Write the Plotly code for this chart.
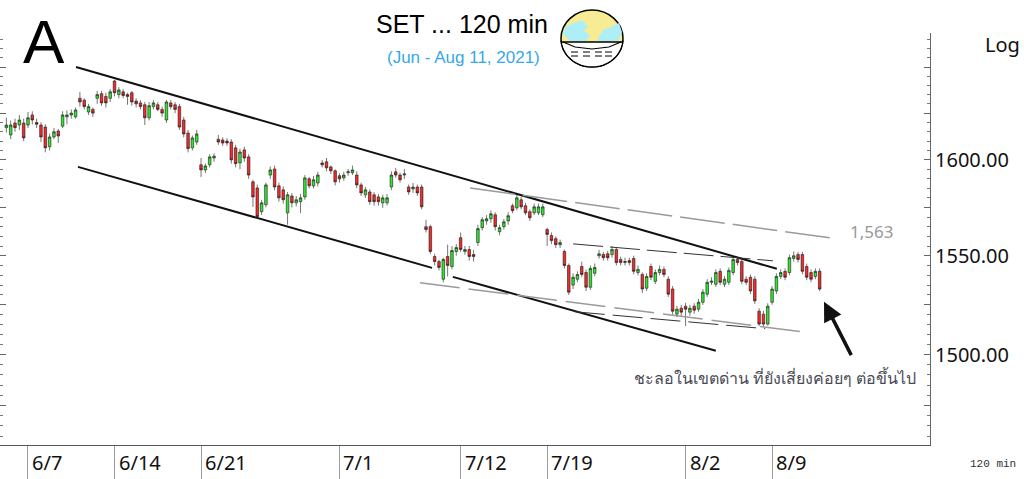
import math
import numpy as np
import plotly.graph_objects as go

# 120-min bars, index 0 = first bar of 6/7 (4 bars per trading day)
bar_index = list(range(-5, 184))

open_ = [1617.2, 1613.3, 1619.7, 1618.6, 1619.7,
         1618.6, 1624, 1620, 1618.6, 1617.5, 1607, 1612.2, 1615.4, 1618, 1623,
         1624, 1623, 1633, 1632, 1625.6, 1627, 1633, 1635.5, 1634, 1633,
         1642.4, 1635, 1636.5, 1635, 1636, 1631.5, 1630.5, 1629.5, 1622.5, 1628.5,
         1629.5, 1627, 1621.3, 1630.5, 1629.5, 1628.5, 1621.3, 1614.3, 1606.4, 1609.5,
         1597.4, 1594.7, 1597.4, 1601, 1611, 1610.6, 1610, 1609.5, 1606.4, 1598.4,
         1605.3, 1601.6, 1588.4, 1585.2, 1572.8, 1576.4, 1592, 1595.2, 1586.3, 1584.2,
         1572.2, 1581, 1577.4, 1578, 1580.5, 1590, 1586.3, 1587.8, 1598.4, 1599,
         1596.3, 1594.2, 1591.6, 1590.5, 1593.2, 1593.2, 1592, 1586.8, 1581.6, 1583.1,
         1581.6, 1580.5, 1577.4, 1577.4, 1585.7, 1593.7, 1592, 1592, 1585.7, 1584.7,
         1585.7, 1585.7, 1565, 1565, 1549.6, 1547, 1538, 1549.6, 1544.5, 1552.2,
         1559.3, 1552.2, 1553.2, 1550.6, 1556.8, 1564.5, 1568, 1569.1, 1571.2, 1562.4,
         1565, 1568, 1575.9, 1574.8, 1579, 1575.9, 1572.8, 1572.2, 1572.2, 1571.2,
         1563.5, 1560.4, 1558.8, 1555.7, 1552.2, 1545, 1535, 1538, 1544.5, 1541.4,
         1533.9, 1541, 1550, 1550.6, 1551, 1550.6, 1553.2, 1548.1, 1546.5, 1547.5,
         1548.6, 1541.4, 1540.4, 1533.4, 1544.5, 1536.9, 1541.4, 1543, 1538, 1533,
         1520.3, 1523.3, 1524.3, 1521.3, 1524.3, 1522.8, 1526.3, 1530.4, 1536.4, 1535.4,
         1542, 1535.4, 1536.4, 1541.4, 1548.1, 1547, 1538, 1539, 1538, 1521.8,
         1520.3, 1515.3, 1526.3, 1532, 1539.4, 1542, 1541.4, 1548.6, 1550.6, 1550.6,
         1544.5, 1541.4, 1539.4, 1542]

high = [1622.5, 1621, 1622, 1624, 1622,
        1625.6, 1626, 1622, 1620, 1619, 1614, 1617, 1616.5, 1626, 1626.5,
        1627, 1628, 1636.5, 1633, 1630, 1628, 1637, 1637, 1636, 1638,
        1643, 1639, 1638, 1636, 1637, 1633, 1632, 1631, 1631, 1632,
        1631, 1628.5, 1632, 1632, 1631, 1630, 1623, 1616, 1613, 1616,
        1601, 1598, 1603, 1603.5, 1613.3, 1612, 1611.5, 1611, 1608, 1606,
        1607, 1603, 1589.5, 1587, 1579, 1588, 1596.5, 1597, 1588, 1586,
        1583, 1582.5, 1581, 1582, 1592, 1591, 1591.5, 1593.7, 1600, 1601,
        1597, 1595, 1593, 1593.7, 1595.2, 1597, 1594, 1588, 1585.7, 1584.5,
        1583, 1582, 1581.6, 1582, 1594, 1595.8, 1593.2, 1595.2, 1587, 1587.8,
        1587, 1587, 1568.6, 1566, 1551, 1548, 1549, 1555.7, 1555, 1556,
        1562, 1555, 1555, 1553, 1566, 1570, 1571, 1573.5, 1572.5, 1566,
        1569, 1572.5, 1577, 1581.6, 1580.5, 1577.4, 1574, 1577, 1577, 1577,
        1564.5, 1562, 1560, 1558.3, 1553.2, 1546, 1541, 1542, 1547, 1543,
        1545, 1546, 1553, 1552, 1552.5, 1555, 1554.5, 1549.5, 1549, 1549,
        1550, 1545, 1541.5, 1541, 1546, 1543, 1545, 1544.5, 1539.5, 1534.5,
        1524.5, 1525, 1526, 1525, 1525.8, 1528, 1533, 1538, 1539, 1543,
        1543.5, 1539.5, 1544, 1549.6, 1549.5, 1548.5, 1539.5, 1540.4, 1539.5, 1523.3,
        1522, 1525.8, 1534.5, 1541, 1543, 1543.5, 1550.6, 1552.2, 1552, 1552,
        1546, 1543, 1543.5, 1543.5]

low = [1614.5, 1611, 1615, 1616, 1610,
       1617, 1619, 1617, 1609.5, 1604, 1605, 1611, 1609, 1617, 1619,
       1622, 1622, 1628.5, 1627, 1624, 1623, 1630, 1629, 1628, 1631,
       1634, 1633, 1633, 1629.5, 1629, 1628, 1627, 1618.6, 1621, 1627,
       1626, 1623, 1619.7, 1627, 1625, 1616, 1612, 1604, 1605, 1608,
       1591, 1593, 1596, 1599, 1608, 1607.5, 1607.5, 1598, 1596, 1595,
       1599, 1590, 1575.3, 1569.6, 1571, 1575, 1590, 1584, 1578, 1577,
       1566, 1575, 1575.5, 1572, 1579, 1585, 1585, 1586, 1596, 1594,
       1592.6, 1586.5, 1588, 1589, 1591.6, 1592, 1585, 1581, 1580, 1576.4,
       1575.9, 1576, 1574.8, 1576, 1584, 1590.5, 1588, 1590, 1581.6, 1582.6,
       1581, 1574, 1562, 1551, 1545, 1542.5, 1536.4, 1539.4, 1543, 1550,
       1552, 1550.5, 1547.5, 1547, 1555, 1563, 1566, 1567, 1563, 1560.5,
       1563.5, 1566, 1572, 1573.5, 1574, 1571, 1568, 1571, 1571, 1570,
       1555, 1556, 1554, 1554, 1543.5, 1530, 1533, 1536.5, 1539, 1532,
       1532.5, 1539.5, 1548.5, 1547.5, 1547.5, 1549, 1545, 1545, 1545, 1545,
       1540.5, 1540, 1531, 1532, 1537.5, 1535.5, 1540, 1539, 1529, 1520,
       1518.8, 1519.5, 1514.3, 1519.5, 1520.5, 1521.5, 1525, 1529, 1535, 1534,
       1535, 1534, 1535, 1540, 1545, 1535.5, 1535, 1530.5, 1525.5, 1514.3,
       1514, 1514.5, 1525, 1530.5, 1538, 1537.5, 1540, 1547, 1546.5, 1540.5,
       1537.5, 1536.5, 1538, 1532]

close = [1618.6, 1618.6, 1617.2, 1621.3, 1611.7,
         1622.5, 1621.3, 1619, 1612.2, 1606.4, 1612.2, 1615, 1612.7, 1624, 1624,
         1625, 1626.7, 1631, 1628.5, 1628.5, 1625, 1635, 1630.5, 1630.5, 1636.5,
         1636, 1637.5, 1634.5, 1634, 1631, 1630, 1628.5, 1622.5, 1629, 1630.5,
         1627, 1625, 1631, 1628.5, 1627, 1617.5, 1613.8, 1606, 1611.7, 1613.8,
         1594.7, 1596.8, 1601.6, 1602, 1609.5, 1609, 1609, 1600, 1598, 1604.2,
         1601, 1592, 1580.5, 1570.2, 1577.4, 1586.8, 1594.7, 1585.7, 1580, 1579,
         1581.6, 1577.4, 1579, 1580, 1590.5, 1586.3, 1589.5, 1592, 1597.4, 1595.8,
         1594.2, 1588.4, 1590, 1592, 1593.7, 1594.7, 1586.8, 1582.6, 1584.2, 1578,
         1578, 1578, 1580, 1580, 1592, 1592, 1589.5, 1592.6, 1583.1, 1585.7,
         1582.6, 1575.3, 1563.5, 1552.2, 1547, 1544, 1548.1, 1545, 1552.7, 1554.2,
         1553.2, 1553.2, 1549.6, 1549.6, 1564, 1568.6, 1569.1, 1571.7, 1565, 1564.5,
         1567.5, 1570.7, 1573.3, 1580, 1575.3, 1572.2, 1569.6, 1575.3, 1575.3, 1575.3,
         1561, 1557.8, 1555.7, 1556.8, 1545, 1531.4, 1539, 1540.4, 1540.4, 1533.9,
         1543.5, 1544, 1551, 1549, 1549, 1553.2, 1546.5, 1546.5, 1547, 1546.5,
         1542, 1543, 1533, 1539.4, 1539, 1541.4, 1543, 1540.4, 1530.4, 1521.8,
         1522.8, 1521.3, 1522.8, 1523.3, 1522.3, 1526.3, 1531.4, 1536.4, 1537, 1541.4,
         1536.4, 1538, 1542.5, 1548.1, 1546.5, 1536.9, 1536.4, 1532, 1527, 1515.3,
         1515.3, 1524.3, 1533, 1539.4, 1541.4, 1539, 1549, 1550, 1548.1, 1542,
         1539, 1538, 1542, 1533]

# date separators (bar index of first bar of the day) and their labels
date_ticks = [0, 20, 40, 72, 100, 120, 152, 172]
date_labels = ["6/7", "6/14", "6/21", "7/1", "7/12", "7/19", "8/2", "8/9"]

price_labels = [1500, 1550, 1600]

# hand-drawn trend lines: (bar index, price) pairs
upper_channel = ([11.1, 173.1], [1650.0, 1543.3])
lower_channel_a = ([11.56, 93.4], [1596.3, 1543.8])
lower_channel_b = ([98.2, 159.0], [1539.2, 1502.0])
gray_upper = ([102.2, 185.4], [1585.2, 1559.2])
gray_lower = ([90.6, 178.5], [1536.2, 1511.5])
inner_upper = ([126.0, 172.2], [1556.1, 1547.4])
inner_lower = ([126.4, 170.4], [1521.5, 1513.0])

# plot area in pixels
PW, PT, PB = 930, 33, 445
PH = PB - PT


def px_x(x):
    return x / PW


def px_y(y):
    return (PB - y) / PH


fig = go.Figure()

fig.add_trace(go.Candlestick(
    x=bar_index, open=open_, high=high, low=low, close=close,
    increasing=dict(line=dict(color="#1a1a1a", width=0.6), fillcolor="#2ee82e"),
    decreasing=dict(line=dict(color="#1a1a1a", width=0.6), fillcolor="#f52a2a"),
    whiskerwidth=0, hoverinfo="skip", showlegend=False))


def add_line(pts, color, width, dash="solid"):
    fig.add_trace(go.Scatter(x=pts[0], y=pts[1], mode="lines",
                             line=dict(color=color, width=width, dash=dash),
                             hoverinfo="skip", showlegend=False))


add_line(upper_channel, "#111111", 2)
add_line(lower_channel_a, "#111111", 2)
add_line(lower_channel_b, "#111111", 2)
add_line(gray_upper, "#9a9a9a", 1.5, "45px,8px")
add_line(gray_lower, "#9a9a9a", 1.5, "40px,9px")
add_line(inner_upper, "#333333", 1, "30px,7px")
add_line(inner_lower, "#333333", 1, "30px,8px")

major = list(range(1475, 1651, 25))
minor = [v for v in range(1460, 1666, 5) if v not in major]

fig.update_layout(
    width=1024, height=479,
    margin=dict(l=0, r=1024 - PW, t=PT, b=479 - PB, pad=0),
    paper_bgcolor="white", plot_bgcolor="white",
    boxgap=0.15,
    font=dict(family="Noto Sans, sans-serif", color="#111111"),
    xaxis=dict(range=[-6.47, 208.5], rangeslider=dict(visible=False),
               showgrid=False, zeroline=False, showline=True,
               linecolor="#555555", linewidth=1,
               tickvals=date_ticks, ticks="outside", ticklen=34,
               tickcolor="#9a9a9a", tickwidth=1, showticklabels=False),
    yaxis=dict(type="log", side="right",
               range=[math.log10(1455.8), math.log10(1668.7)],
               showgrid=False, zeroline=False, showline=True,
               linecolor="#666666", linewidth=1, mirror="ticks",
               tickvals=major,
               ticktext=[f"{v:.2f}" if v in price_labels else "" for v in major],
               ticks="inside", ticklen=6, tickcolor="#666666",
               tickfont=dict(size=20, color="#111111"),
               minor=dict(tickvals=minor, ticks="inside", ticklen=3,
                          tickcolor="#777777")),
)

ann = []
for t, lab in zip(date_ticks, date_labels):
    ann.append(dict(x=t, y=px_y(462), xref="x", yref="paper", text=lab,
                    xanchor="left", xshift=2, font=dict(size=20, color="#111111")))

ann += [
    dict(x=px_x(44), y=px_y(41), xref="paper", yref="paper", text="A",
         font=dict(family="Liberation Sans", size=62, color="black")),
    dict(x=px_x(462), y=px_y(24), xref="paper", yref="paper", text="SET ... 120 min",
         font=dict(family="Liberation Sans", size=25, color="black")),
    dict(x=px_x(463), y=px_y(58), xref="paper", yref="paper", text="(Jun - Aug 11, 2021)",
         font=dict(family="Liberation Sans", size=17, color="#35a9e8")),
    dict(x=px_x(1002), y=px_y(45), xref="paper", yref="paper", text="Log",
         font=dict(size=20, color="#111111")),
    dict(x=px_x(993), y=px_y(464), xref="paper", yref="paper", text="120 min",
         font=dict(family="Liberation Mono", size=11, color="#333333")),
    dict(x=189.6, y=math.log10(1562.5), xref="x", yref="y", text="1,563",
         xanchor="left", font=dict(size=17, color="#999999")),
    dict(x=172.7, y=math.log10(1488.6), xref="x", yref="y",
         text="ชะลอในเขตด่าน ที่ยังเสี่ยงค่อยๆ ต่อขึ้นไป",
         font=dict(size=16, color="#4a4a55")),
]
for a in ann:
    a.setdefault("showarrow", False)
    a.setdefault("xanchor", "center")
    a.setdefault("yanchor", "middle")
ann.append(dict(x=184.0, y=math.log10(1526.6), xref="x", yref="y", text="",
                showarrow=True, arrowhead=2, arrowsize=1.1, arrowwidth=3.5,
                arrowcolor="#111111", ax=28, ay=55))
fig.update_layout(annotations=ann)

# globe icon next to the title
cx, cy, rx, ry = 592, 38.5, 31, 28.5
shapes = [dict(type="circle", xref="paper", yref="paper",
               x0=px_x(cx - rx), x1=px_x(cx + rx), y0=px_y(cy + ry), y1=px_y(cy - ry),
               fillcolor="#f7ec93", line=dict(color="black", width=1.5))]


def poly(points, fill, line_color=None, width=0, closed=True):
    d = "M" + " L".join(f"{px_x(a):.5f},{px_y(b):.5f}" for a, b in points)
    if closed:
        d += " Z"
    return dict(type="path", xref="paper", yref="paper", path=d,
                fillcolor=fill if closed else None,
                line=dict(color=line_color or "rgba(0,0,0,0)", width=width))


shapes.append(poly([(563, 34), (566, 26), (574, 23), (582, 20), (588, 26), (584, 31),
                    (590, 35), (586, 41), (570, 41)], "#aeeef6"))
shapes.append(poly([(597, 40), (603, 30), (611, 27), (619, 23), (622, 32), (619, 40),
                    (606, 42)], "#aeeef6"))
t = np.linspace(0.12, math.pi - 0.12, 30)
bowl = [(cx + rx * math.cos(a), cy + ry * math.sin(a)) for a in t]
bowl = [(cx + rx * 0.99, 42)] + bowl + [(cx - rx * 0.99, 42)]
shapes.append(poly(bowl, "white", "black", 1.3))
shapes.append(poly([(563, 42), (575, 47), (592, 49), (609, 47), (621, 42)], None,
                   "black", 1.2, closed=False))
for y in (52, 56):
    for x0 in (571, 583, 595, 605):
        shapes.append(poly([(x0, y), (x0 + 7, y)], None, "black", 1, closed=False))
fig.update_layout(shapes=shapes)

fig.write_html("out.html", config={"displayModeBar": False},
               post_script="document.body.style.margin='0';")
